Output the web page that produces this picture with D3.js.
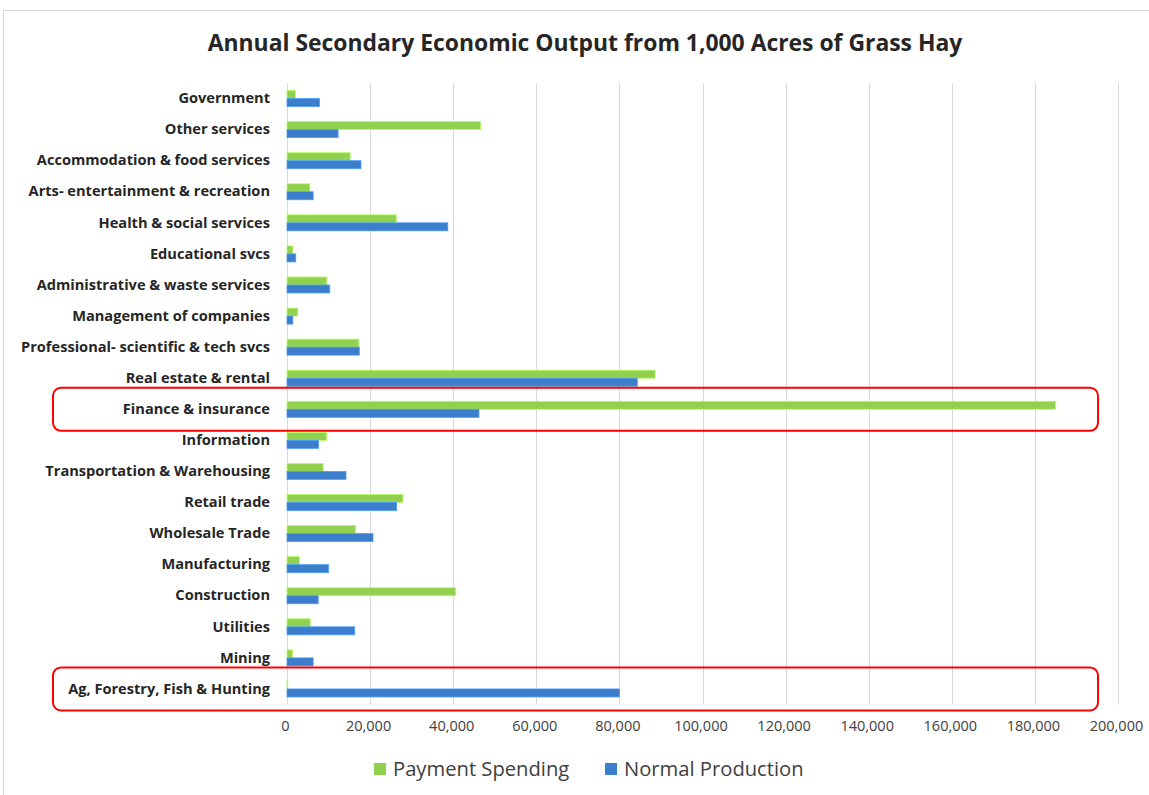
<!DOCTYPE html>
<html>
<head>
<meta charset="utf-8">
<script src="https://cdn.jsdelivr.net/npm/d3@7"></script>
<style>
  html, body { margin: 0; padding: 0; background: #fff; }
  svg { display: block; }
  text { font-family: "Open Sans", Lato, sans-serif; }
</style>
</head>
<body>
<svg id="chart" width="1149" height="795"></svg>
<script>
// Sectors, listed bottom to top as they appear on the axis
const categories = [
  "Ag, Forestry, Fish & Hunting",
  "Mining",
  "Utilities",
  "Construction",
  "Manufacturing",
  "Wholesale Trade",
  "Retail trade",
  "Transportation & Warehousing",
  "Information",
  "Finance & insurance",
  "Real estate & rental",
  "Professional- scientific & tech svcs",
  "Management of companies",
  "Administrative & waste services",
  "Educational svcs",
  "Health & social services",
  "Arts- entertainment & recreation",
  "Accommodation & food services",
  "Other services",
  "Government"
];

const paymentSpending = [
  200, 1300, 5600, 40600, 3000, 16500, 27900, 8700, 9500, 185000,
  88600, 17300, 2600, 9600, 1400, 26300, 5500, 15200, 46600, 2000
];

const normalProduction = [
  80000, 6300, 16300, 7500, 10000, 20700, 26400, 14200, 7600, 46200,
  84300, 17400, 1400, 10300, 2100, 38700, 6300, 17800, 12300, 7800
];

const seriesNames = ["Payment Spending", "Normal Production"];
const seriesColors = ["#92D050", "#3C7DCC"];
const xTicks = [0, 20000, 40000, 60000, 80000, 100000, 120000, 140000, 160000, 180000, 200000];
const highlighted = ["Finance & insurance", "Ag, Forestry, Fish & Hunting"];

const svg = d3.select("#chart");

// chart frame
svg.append("rect")
  .attr("x", 3.5).attr("y", 10.5)
  .attr("width", 1160).attr("height", 800)
  .attr("fill", "#fff").attr("stroke", "#d9d9d9").attr("stroke-width", 1);

const plot = { left: 287, right: 1118, top: 83, bottom: 704.5 };

const x = d3.scaleLinear().domain([0, 200000]).range([plot.left, plot.right]);

const y = d3.scaleBand()
  .domain(categories.slice().reverse())
  .range([plot.top, plot.bottom])
  .paddingInner(0.485)
  .paddingOuter(0.2425);

const inner = d3.scaleBand()
  .domain(seriesNames)
  .range([0, y.bandwidth()]);

// vertical gridlines
svg.append("g")
  .selectAll("line")
  .data(xTicks)
  .join("line")
  .attr("x1", d => Math.round(x(d)) + 0.5)
  .attr("x2", d => Math.round(x(d)) + 0.5)
  .attr("y1", plot.top)
  .attr("y2", plot.bottom)
  .attr("stroke", "#d9d9d9")
  .attr("stroke-width", 1);

// x axis tick labels
const xAxis = d3.axisBottom(x)
  .tickValues(xTicks)
  .tickSize(0)
  .tickPadding(0)
  .tickFormat(d3.format(","));

const gx = svg.append("g")
  .attr("transform", `translate(-2, ${plot.bottom + 16})`)
  .call(xAxis);
gx.select(".domain").remove();
gx.selectAll("text")
  .attr("fill", "#404040")
  .attr("font-size", 14.5)
  .attr("dy", "0.7em");

// category labels
const yAxis = d3.axisLeft(y).tickSize(0).tickPadding(17);
const gy = svg.append("g")
  .attr("transform", `translate(${plot.left}, 0)`)
  .call(yAxis);
gy.select(".domain").remove();
gy.selectAll("text")
  .attr("fill", "#262626")
  .attr("font-size", 14.6)
  .attr("font-weight", "bold");

// bars
const rows = categories.map((c, i) => ({
  category: c,
  values: [
    { series: seriesNames[0], value: paymentSpending[i], color: seriesColors[0] },
    { series: seriesNames[1], value: normalProduction[i], color: seriesColors[1] }
  ]
}));

svg.append("g")
  .selectAll("g")
  .data(rows)
  .join("g")
  .attr("transform", d => `translate(0, ${y(d.category)})`)
  .selectAll("rect")
  .data(d => d.values)
  .join("rect")
  .attr("x", x(0))
  .attr("y", d => inner(d.series))
  .attr("width", d => x(d.value) - x(0))
  .attr("height", inner.bandwidth())
  .attr("fill", d => d.color)
  .attr("stroke", d => d3.color(d.color).brighter(0.6))
  .attr("stroke-width", 0.8);

// callout boxes around two sectors
svg.append("g")
  .selectAll("rect")
  .data(highlighted)
  .join("rect")
  .attr("x", 53)
  .attr("y", d => y(d) + y.bandwidth() / 2 - 21.5)
  .attr("width", 1045)
  .attr("height", 43)
  .attr("rx", 8)
  .attr("fill", "none")
  .attr("stroke", "#ff0000")
  .attr("stroke-width", 2);

// title
svg.append("text")
  .attr("x", 585)
  .attr("y", 51)
  .attr("text-anchor", "middle")
  .attr("font-size", 22.9)
  .attr("font-weight", "bold")
  .attr("fill", "#262626")
  .text("Annual Secondary Economic Output from 1,000 Acres of Grass Hay");

// legend
const legendItems = [
  { name: seriesNames[0], color: seriesColors[0], x: 374 },
  { name: seriesNames[1], color: seriesColors[1], x: 605 }
];
const lg = svg.append("g")
  .selectAll("g")
  .data(legendItems)
  .join("g")
  .attr("transform", d => `translate(${d.x}, 769)`);
lg.append("rect")
  .attr("x", 0).attr("y", -6)
  .attr("width", 12).attr("height", 12)
  .attr("fill", d => d.color);
lg.append("text")
  .attr("x", 19)
  .attr("dy", "0.35em")
  .attr("font-size", 20.2)
  .attr("fill", "#404040")
  .text(d => d.name);
</script>
</body>
</html>
